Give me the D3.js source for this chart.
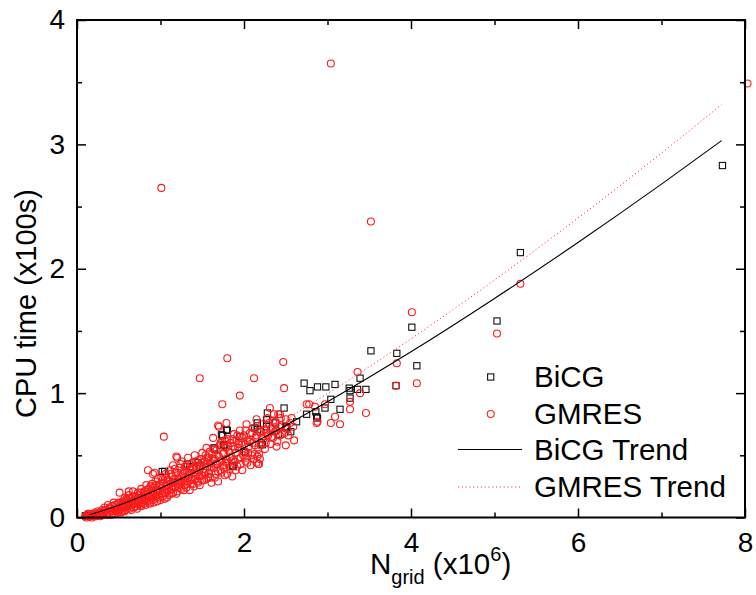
<!DOCTYPE html>
<html>
<head>
<meta charset="utf-8">
<script src="https://cdn.jsdelivr.net/npm/d3@7"></script>
<style>
  html, body { margin: 0; padding: 0; background: #fff; }
  svg text { font-family: "Liberation Sans", Arial, Helvetica, sans-serif; fill: #000; }
</style>
</head>
<body>
<svg id="chart" width="756" height="595"></svg>
<script>
// ---------------- data ----------------
const xTicks = [0, 2, 4, 6, 8];
const yTicks = [0, 1, 2, 3, 4];
const xMinorTicks = [1, 3, 5, 7];
const yMinorTicks = [0.5, 1.5, 2.5, 3.5];

// BiCG samples [N_grid (x10^6), CPU time (x100s)]
const bicgPoints = [
  [0.10,0.014],[0.135,0.014],[0.30,0.04],[0.55,0.10],[0.75,0.16],[0.95,0.22],[1.02,0.37],[1.05,0.37],[1.15,0.28],
  [1.32,0.43],[1.35,0.41],[1.44,0.44],[1.47,0.42],[1.57,0.48],[1.64,0.56],[1.65,0.55],[1.73,0.665],[1.745,0.66],
  [1.76,0.58],[1.76,0.585],[1.79,0.705],[1.80,0.70],[1.86,0.42],[1.87,0.41],[1.95,0.65],[2.00,0.53],[2.02,0.52],
  [2.13,0.72],[2.16,0.76],[2.16,0.705],[2.16,0.737],[2.21,0.60],[2.22,0.585],[2.27,0.73],[2.27,0.785],[2.28,0.84],
  [2.38,0.76],[2.41,0.67],[2.48,0.88],[2.50,0.73],[2.51,0.72],[2.56,0.69],[2.63,0.77],[2.72,1.08],[2.75,0.83],
  [2.79,1.02],[2.86,0.85],[2.87,0.81],[2.88,1.05],[2.88,0.80],[2.97,0.88],[2.98,1.05],[3.04,0.95],[3.09,1.07],
  [3.15,0.87],[3.26,1.04],[3.27,1.02],[3.27,0.96],[3.36,1.03],[3.39,1.12],[3.46,1.03],[3.52,1.34],[3.82,1.06],
  [3.83,1.32],[4.01,1.53],[4.07,1.22],[5.03,1.58],[5.31,2.13],[7.73,2.83]
];

// GMRES samples [N_grid (x10^6), CPU time (x100s)]
const gmresPoints = [
  [0.10,0.01],[0.12,0.02],[0.14,0.01],[0.15,0.03],[0.17,0.02],[0.18,0.00],[0.20,0.03],[0.21,0.01],[0.22,0.04],
  [0.24,0.02],[0.25,0.05],[0.26,0.03],[0.28,0.01],[0.29,0.04],[0.30,0.06],
  [0.31,0.02],[0.32,0.05],[0.33,0.08],[0.35,0.03],[0.36,0.06],[0.37,0.10],[0.38,0.04],[0.40,0.07],[0.41,0.02],
  [0.42,0.09],[0.43,0.05],[0.44,0.12],[0.45,0.07],[0.46,0.03],[0.47,0.10],[0.48,0.06],[0.49,0.08],[0.50,0.04],[0.50,0.12],
  [0.51,0.20],[0.52,0.07],[0.53,0.10],[0.54,0.05],[0.55,0.13],[0.56,0.08],[0.57,0.16],[0.58,0.06],[0.59,0.11],
  [0.60,0.14],[0.61,0.09],[0.62,0.18],[0.62,0.21],[0.63,0.07],[0.64,0.12],[0.65,0.15],[0.66,0.10],[0.67,0.21],[0.68,0.08],
  [0.69,0.13],[0.70,0.17],[0.70,0.11],
  [0.71,0.09],[0.72,0.15],[0.73,0.20],[0.74,0.12],[0.75,0.18],[0.76,0.10],[0.77,0.23],[0.78,0.14],[0.79,0.17],
  [0.80,0.11],[0.81,0.21],[0.82,0.15],[0.83,0.26],[0.84,0.13],[0.85,0.19],[0.85,0.38],[0.86,0.23],[0.87,0.16],
  [0.88,0.12],[0.89,0.21],[0.90,0.18],[0.90,0.27],
  [0.91,0.14],[0.91,0.35],[0.92,0.24],[0.93,0.36],[0.93,0.19],[0.94,0.29],[0.95,0.16],[0.96,0.22],[0.97,0.31],[0.98,0.18],
  [0.99,0.26],[1.00,0.14],[1.00,0.21],[1.01,0.33],[1.02,0.24],[1.03,0.17],[1.04,0.28],[1.04,0.65],[1.05,0.20],
  [1.06,0.35],[1.07,0.25],[1.08,0.16],[1.09,0.30],[1.10,0.22],
  [1.11,0.38],[1.12,0.27],[1.13,0.19],[1.14,0.33],[1.15,0.42],[1.16,0.24],[1.17,0.29],[1.18,0.36],[1.19,0.49],
  [1.20,0.21],[1.20,0.48],[1.21,0.31],[1.22,0.27],[1.23,0.40],[1.24,0.34],[1.25,0.23],[1.26,0.45],[1.27,0.30],[1.28,0.37],
  [1.29,0.26],[1.30,0.33],
  [1.31,0.41],[1.32,0.29],[1.33,0.48],[1.34,0.35],[1.35,0.22],[1.36,0.39],[1.37,0.31],[1.38,0.44],[1.39,0.27],
  [1.40,0.36],[1.41,0.50],[1.42,0.33],[1.43,0.40],[1.44,0.29],[1.45,0.46],[1.46,0.37],[1.47,0.26],[1.48,0.42],
  [1.49,0.34],[1.50,0.52],
  [1.51,0.39],[1.52,0.30],[1.53,0.45],[1.54,0.36],[1.55,0.56],[1.56,0.41],[1.57,0.32],[1.58,0.48],[1.59,0.38],
  [1.60,0.44],[1.61,0.28],[1.62,0.51],[1.63,0.64],[1.64,0.40],[1.65,0.47],[1.66,0.35],[1.67,0.54],[1.68,0.43],
  [1.69,0.29],[1.69,0.74],[1.70,0.49],[1.70,0.73],
  [1.71,0.58],[1.72,0.38],[1.73,0.46],[1.74,0.91],[1.74,0.61],[1.75,0.42],[1.76,0.52],[1.77,0.34],[1.78,0.56],
  [1.79,0.76],[1.79,0.47],[1.80,1.28],[1.80,0.63],[1.81,0.44],[1.82,0.53],[1.83,0.39],[1.84,0.60],[1.85,0.49],
  [1.86,0.33],[1.87,0.57],[1.88,0.67],[1.89,0.45],[1.90,0.52],
  [1.91,0.62],[1.92,0.41],[1.93,0.56],[1.95,0.98],[1.95,0.70],[1.96,0.48],[1.97,0.60],[1.98,0.38],[2.00,0.66],
  [2.01,0.53],[2.02,0.45],[2.03,0.75],[2.03,0.48],[2.04,0.62],[2.06,0.57],[2.07,0.68],[2.08,0.42],[2.10,0.60],
  [2.11,0.72],[2.12,1.12],[2.13,0.51],[2.14,0.64],[2.15,0.79],[2.15,0.44],[2.16,0.49],[2.17,0.43],[2.18,0.51],
  [2.18,0.43],[2.19,0.69],[2.20,0.58],
  [2.22,0.75],[2.23,0.63],[2.25,0.55],[2.26,0.70],[2.28,0.80],[2.29,0.66],[2.31,0.88],[2.32,0.59],[2.33,0.72],
  [2.35,0.64],[2.36,0.83],[2.37,0.77],[2.38,0.70],[2.39,0.70],[2.39,0.57],[2.40,0.61],[2.41,0.83],[2.43,0.83],[2.43,0.66],
  [2.45,0.74],[2.47,1.25],[2.48,1.04],[2.49,0.68],[2.50,0.58],[2.50,0.79],[2.52,0.71],[2.55,0.76],[2.59,0.73],
  [2.60,0.62],
  [2.75,0.91],[2.78,0.91],[2.85,0.89],[2.87,0.76],[2.88,0.77],[2.97,0.91],[3.04,0.76],[3.09,0.81],[3.15,0.75],
  [3.27,0.93],[3.27,0.87],[3.36,1.17],[3.39,1.00],[3.46,0.84],
  [1.01,2.65],[1.47,1.12],[3.04,3.65],[3.52,2.38],[3.82,1.06],[3.83,1.24],[4.01,1.65],[4.07,1.08],[5.03,1.48],[5.31,1.88],
  [8.03,3.49],
  // denser part of the band
  [0.11,0.00],[0.13,0.03],[0.16,0.01],[0.19,0.02],[0.23,0.01],[0.27,0.04],[0.29,0.02],[0.32,0.03],[0.34,0.06],
  [0.36,0.02],[0.39,0.08],[0.41,0.05],[0.43,0.03],[0.45,0.10],[0.47,0.05],[0.49,0.11],[0.51,0.06],[0.53,0.04],
  [0.54,0.09],[0.56,0.12],[0.57,0.05],[0.59,0.15],[0.60,0.07],[0.62,0.10],[0.63,0.15],[0.65,0.06],[0.66,0.13],
  [0.67,0.17],[0.69,0.09],[0.71,0.14],[0.72,0.07],[0.73,0.11],[0.75,0.15],[0.76,0.20],[0.77,0.09],[0.78,0.12],
  [0.80,0.19],[0.81,0.14],[0.82,0.10],[0.84,0.22],[0.86,0.17],[0.87,0.11],[0.88,0.25],[0.89,0.15],[0.91,0.20],
  [0.92,0.12],[0.94,0.17],[0.95,0.26],[0.96,0.13],[0.97,0.21],[0.99,0.16],[1.01,0.27],[1.02,0.19],[1.03,0.31],
  [1.05,0.15],[1.06,0.23],[1.07,0.32],[1.08,0.26],[1.10,0.18],[1.11,0.29],[1.12,0.35],[1.13,0.23],[1.15,0.20],
  [1.16,0.31],[1.17,0.39],[1.18,0.25],[1.19,0.19],[1.21,0.36],[1.22,0.24],[1.23,0.30],[1.24,0.43],[1.25,0.28],
  [1.27,0.35],[1.28,0.22],[1.29,0.41],[1.30,0.29],[1.31,0.24],[1.32,0.37],[1.33,0.32],[1.35,0.43],[1.36,0.27],
  [1.37,0.35],[1.39,0.40],[1.40,0.25],[1.41,0.31],[1.42,0.45],[1.43,0.35],[1.45,0.28],[1.46,0.41],[1.47,0.33],
  [1.49,0.47],[1.50,0.30],[1.51,0.44],[1.52,0.36],[1.54,0.50],[1.55,0.31],[1.56,0.46],[1.58,0.35],[1.59,0.53],
  [1.60,0.32],[1.61,0.41],[1.63,0.47],[1.64,0.55],[1.65,0.32],[1.66,0.43],[1.68,0.50],[1.69,0.37],[1.71,0.45],
  [1.72,0.60],[1.73,0.36],[1.75,0.51],[1.76,0.40],[1.77,0.62],[1.78,0.44],[1.80,0.35],[1.81,0.57],[1.83,0.48],
  [1.84,0.41],[1.86,0.63],[1.87,0.46],[1.89,0.55],[1.90,0.38],[1.92,0.66],[1.93,0.47],[1.94,0.59],[1.96,0.43],
  [1.98,0.64],[1.99,0.50],[2.01,0.59],[2.02,0.70],[2.04,0.44],[2.05,0.52],[2.07,0.61],[2.09,0.50],[2.10,0.68],
  [2.12,0.47],[2.13,0.58],[2.15,0.66],[2.17,0.55],[2.19,0.47],[2.21,0.64],[2.24,0.71],[2.26,0.60],[2.28,0.68],
  [2.30,0.76],[2.33,0.65],[2.35,0.78],[2.37,0.69],[2.42,0.73],[2.44,0.80],[2.46,0.67],[2.53,0.66],[2.57,0.80]
];

// Trend curves as drawn in the reference
const trendX     = [0.15, 0.5, 1, 1.5, 2, 2.5, 3, 4, 5, 6, 7, 7.72];
const bicgTrend  = [0.022, 0.099, 0.236, 0.391, 0.560, 0.740, 0.930, 1.332, 1.761, 2.211, 2.680, 3.03];
const gmresTrend = [0.022, 0.102, 0.246, 0.412, 0.595, 0.790, 0.996, 1.437, 1.909, 2.408, 2.930, 3.32];

const legendLabels = ["BiCG", "GMRES", "BiCG Trend", "GMRES Trend"];

// ---------------- drawing ----------------
const svg = d3.select("#chart");
const mLeft = 77, mRight = 745, mTop = 20, mBottom = 517.5;
const x = d3.scaleLinear().domain([0, 8]).range([mLeft, mRight]);
const y = d3.scaleLinear().domain([0, 4]).range([mBottom, mTop]);
const FS = 28, FSL = 29.5;

// markers: squares (BiCG) then circles (GMRES)
const sq = 6.2, cr = 3.5;
svg.append("g").selectAll("rect").data(bicgPoints).join("rect")
  .attr("x", d => x(d[0]) - sq / 2).attr("y", d => y(d[1]) - sq / 2)
  .attr("width", sq).attr("height", sq)
  .attr("fill", "none").attr("stroke", "#111").attr("stroke-width", 1.1);

svg.append("g").selectAll("circle").data(gmresPoints).join("circle")
  .attr("cx", d => x(d[0])).attr("cy", d => y(d[1])).attr("r", cr)
  .attr("fill", "none").attr("stroke", "#ff1a1a").attr("stroke-width", 1.1);

// trend lines
const line = d3.line().x(d => x(d[0])).y(d => y(d[1])).curve(d3.curveMonotoneX);
svg.append("path").datum(trendX.map((v, i) => [v, gmresTrend[i]]))
  .attr("d", line).attr("fill", "none").attr("stroke", "#ff3b3b")
  .attr("stroke-width", 1).attr("stroke-dasharray", "1.2,2.6");
svg.append("path").datum(trendX.map((v, i) => [v, bicgTrend[i]]))
  .attr("d", line).attr("fill", "none").attr("stroke", "#000").attr("stroke-width", 1.1);

// axes
function styleAxis(g) {
  g.select(".domain").remove();
  g.selectAll(".tick line").attr("stroke", "#000").attr("stroke-width", 1.5);
  g.selectAll(".tick text").attr("font-size", FS).attr("font-family", '"Liberation Sans", Arial, sans-serif');
}
svg.append("g").attr("transform", `translate(0,${mBottom})`)
  .call(d3.axisBottom(x).tickValues(xTicks).tickSize(-9).tickPadding(15).tickFormat(d3.format("d"))).call(styleAxis);
svg.append("g").attr("transform", `translate(0,${mBottom})`)
  .call(d3.axisBottom(x).tickValues(xMinorTicks).tickSize(-5).tickFormat("")).call(styleAxis);
svg.append("g").attr("transform", `translate(0,${mTop})`)
  .call(d3.axisTop(x).tickValues(xTicks).tickSize(-9).tickFormat("")).call(styleAxis);
svg.append("g").attr("transform", `translate(0,${mTop})`)
  .call(d3.axisTop(x).tickValues(xMinorTicks).tickSize(-5).tickFormat("")).call(styleAxis);
svg.append("g").attr("transform", `translate(${mLeft},0)`)
  .call(d3.axisLeft(y).tickValues(yTicks).tickSize(-9).tickPadding(12).tickFormat(d3.format("d"))).call(styleAxis);
svg.append("g").attr("transform", `translate(${mLeft},0)`)
  .call(d3.axisLeft(y).tickValues(yMinorTicks).tickSize(-5).tickFormat("")).call(styleAxis);
svg.append("g").attr("transform", `translate(${mRight},0)`)
  .call(d3.axisRight(y).tickValues(yTicks).tickSize(-9).tickFormat("")).call(styleAxis);
svg.append("g").attr("transform", `translate(${mRight},0)`)
  .call(d3.axisRight(y).tickValues(yMinorTicks).tickSize(-5).tickFormat("")).call(styleAxis);

// frame
svg.append("rect").attr("x", mLeft).attr("y", mTop)
  .attr("width", mRight - mLeft).attr("height", mBottom - mTop)
  .attr("fill", "none").attr("stroke", "#000").attr("stroke-width", 2);

// axis titles
const xt = svg.append("text").attr("x", 370).attr("y", 574).attr("font-size", FSL);
xt.append("tspan").text("N");
xt.append("tspan").attr("font-size", 20).attr("dy", 10).text("grid");
xt.append("tspan").attr("dy", -10).text(" (x10");
xt.append("tspan").attr("font-size", 20).attr("dy", -13).text("6");
xt.append("tspan").attr("dy", 13).text(")");

svg.append("text").attr("transform", "translate(36,418) rotate(-90)")
  .attr("font-size", 29).attr("text-anchor", "start").text("CPU time (x100s)");

// legend
const lg = svg.append("g");
const lgY = [377, 414, 449.5, 487];
const lgTextY = [386.5, 423.5, 460, 497];
lg.append("rect").attr("x", 490.7 - sq / 2).attr("y", lgY[0] - sq / 2).attr("width", sq).attr("height", sq)
  .attr("fill", "none").attr("stroke", "#111").attr("stroke-width", 1.1);
lg.append("circle").attr("cx", 490.7).attr("cy", lgY[1]).attr("r", cr)
  .attr("fill", "none").attr("stroke", "#ff1a1a").attr("stroke-width", 1.1);
lg.append("line").attr("x1", 458).attr("x2", 522).attr("y1", lgY[2]).attr("y2", lgY[2])
  .attr("stroke", "#000").attr("stroke-width", 1.1);
lg.append("line").attr("x1", 458).attr("x2", 522).attr("y1", lgY[3]).attr("y2", lgY[3])
  .attr("stroke", "#ff3b3b").attr("stroke-width", 1).attr("stroke-dasharray", "1.2,2.6");
lg.selectAll("text.lbl").data(legendLabels).join("text").attr("class", "lbl")
  .attr("x", 534).attr("y", (d, i) => lgTextY[i]).attr("font-size", FSL).text(d => d);
</script>
</body>
</html>
